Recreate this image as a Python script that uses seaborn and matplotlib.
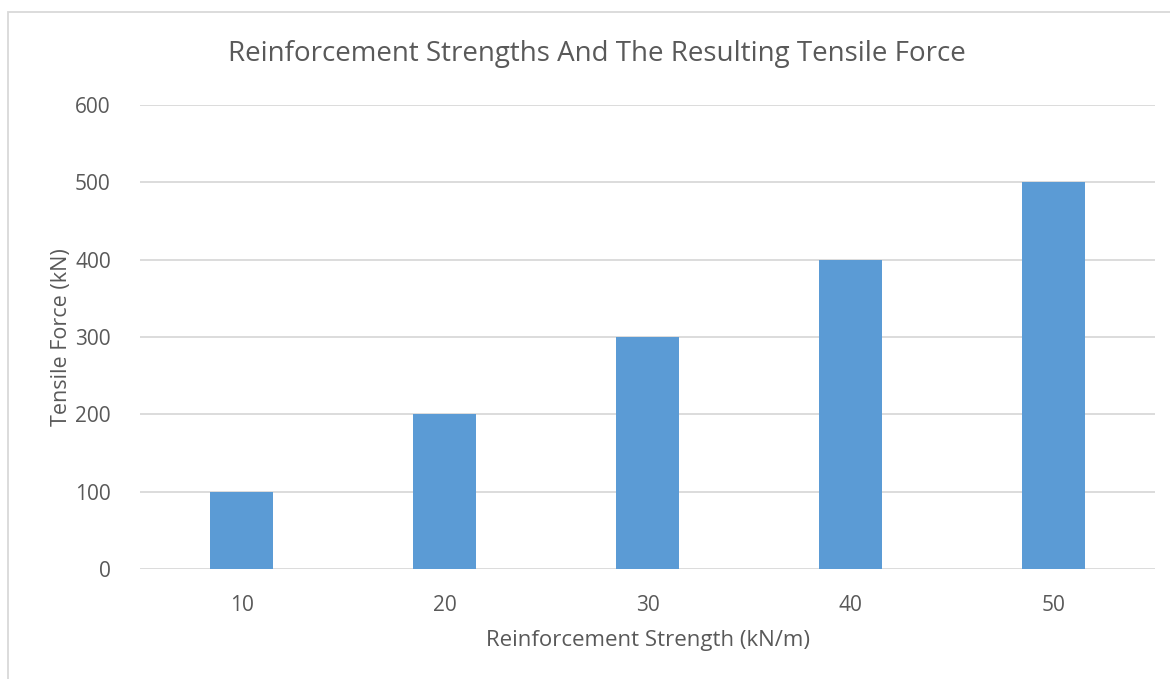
import matplotlib
matplotlib.use("Agg")
import matplotlib.pyplot as plt
import seaborn as sns
import pandas as pd
from matplotlib.patches import Rectangle

strength = ["10", "20", "30", "40", "50"]
tensile_force = [100, 200, 300, 400, 500]
y_ticks = [0, 100, 200, 300, 400, 500, 600]

sns.set_theme(style="white")
plt.rcParams['font.family'] = ['Open Sans', 'DejaVu Sans']

df = pd.DataFrame({"strength": strength, "force": tensile_force})

fig = plt.figure(figsize=(11.7, 6.79), dpi=100)
ax = fig.add_axes([140/1170, 1-569/679, (1155-140)/1170, (569-105)/679])

sns.barplot(data=df, x="strength", y="force", color="#5B9BD5", width=0.315,
            saturation=1, linewidth=0, ax=ax, zorder=3)

text_c = "#595959"
ax.set_ylim(0, 600)
ax.set_yticks(y_ticks)
ax.set_yticklabels([str(v) for v in y_ticks])
ax.grid(axis="y", color="#D9D9D9", linewidth=1.3, zorder=0)
ax.set_axisbelow(True)
for s in ["top", "right", "left", "bottom"]:
    ax.spines[s].set_visible(False)
ax.tick_params(axis="both", length=0, labelsize=15, colors=text_c)
ax.tick_params(axis="y", pad=21)
ax.tick_params(axis="x", pad=19)
ax.set_xlabel("Reinforcement Strength (kN/m)", fontsize=16, color=text_c, labelpad=10)
ax.set_ylabel("Tensile Force (kN)", fontsize=15.5, color=text_c, labelpad=2)
fig.text(597/1170, 1-54/679, "Reinforcement Strengths And The Resulting Tensile Force",
         ha="center", va="center", fontsize=20, color=text_c)

fig.patches.append(Rectangle((8/1170, -0.1), 1.2, 1-12/679+0.1, transform=fig.transFigure,
                             fill=False, edgecolor="#D9D9D9", linewidth=1.3))

fig.savefig("out.png", dpi=100)
